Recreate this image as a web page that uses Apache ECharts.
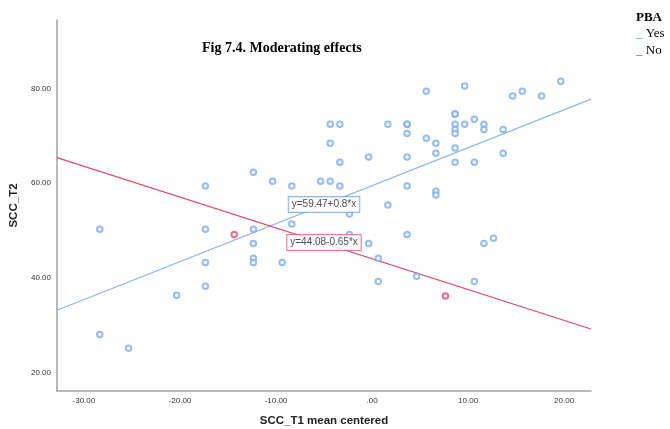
<!DOCTYPE html>
<html><head><meta charset="utf-8">
<script src="https://cdn.jsdelivr.net/npm/echarts@6/dist/echarts.min.js"></script>
<style>html,body{margin:0;padding:0;background:#fff}#c{width:670px;height:429px}</style>
</head><body><div id="c"></div>
<script>
// ---- data ----
const xTicks = [-30, -20, -10, 0, 10, 20];
const yTicks = [20, 40, 60, 80];
const yesX = [-28.35,-28.35,-25.35,-20.35,-17.35,-17.35,-17.35,-17.35,-12.35,-12.35,-12.35,-12.35,-12.35,-10.35,-9.35,-8.35,-8.35,-5.35,-4.35,-4.35,-4.35,-3.35,-3.35,-3.35,-2.35,-2.35,-0.35,-0.35,0.65,0.65,1.65,1.65,3.65,3.65,3.65,3.65,3.65,3.65,4.65,5.65,5.65,6.65,6.65,6.65,6.65,8.65,8.65,8.65,8.65,8.65,8.65,8.65,9.65,9.65,10.65,10.65,10.65,11.65,11.65,11.65,12.65,13.65,13.65,14.65,15.65,17.65,19.65];
const yesY = [50.3,28.1,25.2,36.4,59.4,50.3,43.3,38.3,62.3,50.3,47.3,44.2,43.3,60.4,43.3,59.4,51.4,60.4,72.4,68.4,60.4,72.4,64.4,59.4,53.5,49.2,65.5,47.3,44.2,39.3,72.4,55.4,72.4,72.4,70.5,65.5,59.4,49.2,40.4,79.4,69.5,68.4,66.3,58.3,57.5,74.6,74.6,72.4,71.3,70.5,67.4,64.4,80.5,72.4,73.5,64.4,39.3,72.4,71.3,47.3,48.4,71.3,66.3,78.4,79.4,78.4,81.5];
const noX = [-14.35, 7.65];
const noY = [49.2, 36.2];
const yesFit = [59.47, 0.8];   // intercept, slope
const noFit = [44.08, -0.65];
const yesEq = 'y=59.47+0.8*x';
const noEq = 'y=44.08-0.65*x';
const groups = ['Yes', 'No'];
const legendTitle = 'PBA';
const titleText = 'Fig 7.4. Moderating effects';
const xName = 'SCC_T1 mean centered';
const yName = 'SCC_T2';

// ---- chart ----
const XMIN = -32.8, XMAX = 22.8, YMIN = 16.2, YMAX = 94.4;
const BLUE = '#7aabf0', RED = '#e3486c';
const pts = (xs, ys) => xs.map((x, i) => [x, ys[i]]);
const fitLine = f => [[XMIN, f[0] + f[1] * XMIN], [XMAX, f[0] + f[1] * XMAX]];
const fmt = v => v === 0 ? '.00' : v.toFixed(2);
const chart = echarts.init(document.getElementById('c'), null, {renderer: 'canvas'});
const eqLabel = (pos, text, color) => ({
  type: 'scatter', data: [pos], symbolSize: 1, silent: true, z: 10,
  itemStyle: {color: 'transparent'},
  label: {show: true, position: 'inside', formatter: text, color: '#222',
    fontFamily: 'Liberation Sans', fontSize: 10, backgroundColor: '#fff',
    borderColor: color, borderWidth: 1, padding: [3, 3, 2, 3]}
});
chart.setOption({
  animation: false,
  backgroundColor: '#fff',
  grid: {left: 57, right: 79, top: 20, bottom: 38, outerBoundsMode: 'none', containLabel: false},
  xAxis: {
    type: 'value', min: XMIN, max: XMAX,
    name: xName, nameLocation: 'middle', nameGap: 24,
    nameTextStyle: {fontFamily: 'Liberation Sans', fontWeight: 'bold', fontSize: 11.5, color: '#222'},
    axisLine: {show: true, onZero: false, lineStyle: {color: '#a0a0a0', width: 1.5}},
    axisTick: {show: false}, splitLine: {show: false},
    axisLabel: {customValues: xTicks, formatter: fmt, fontFamily: 'Liberation Sans', fontSize: 8, color: '#333', margin: 6}
  },
  yAxis: {
    type: 'value', min: YMIN, max: YMAX,
    name: yName, nameLocation: 'middle', nameGap: 31,
    nameTextStyle: {fontFamily: 'Liberation Sans', fontWeight: 'bold', fontSize: 11.5, color: '#222'},
    axisLine: {show: true, onZero: false, lineStyle: {color: '#a0a0a0', width: 1.5}},
    axisTick: {show: false}, splitLine: {show: false},
    axisLabel: {customValues: yTicks, formatter: fmt, fontFamily: 'Liberation Sans', fontSize: 8, color: '#333', margin: 6}
  },
  graphic: [
    {type: 'text', left: 202, top: 41, style: {text: titleText, font: 'bold 14px "Liberation Serif"', fill: '#000'}},
    {type: 'text', left: 636, top: 11, style: {text: legendTitle, font: 'bold 13px "Liberation Serif"', fill: '#000'}},
    {type: 'text', left: 636, top: 27, style: {text: '{b|_} ' + groups[0], font: '13px "Liberation Serif"', fill: '#000', rich: {b: {fill: '#2bb3e8', font: '13px "Liberation Serif"'}}}},
    {type: 'text', left: 636, top: 44, style: {text: '{r|_} ' + groups[1], font: '13px "Liberation Serif"', fill: '#000', rich: {r: {fill: '#e0403a', font: '13px "Liberation Serif"'}}}}
  ],
  series: [
    {type: 'line', data: fitLine(yesFit), showSymbol: false, silent: true, z: 2, lineStyle: {color: '#8ab6ee', width: 1.2}},
    {type: 'line', data: fitLine(noFit), showSymbol: false, silent: true, z: 2, lineStyle: {color: RED, width: 1.2}},
    {type: 'scatter', name: groups[0], data: pts(yesX, yesY), symbol: 'emptyCircle', symbolSize: 5.5, z: 3,
      itemStyle: {color: BLUE, borderWidth: 1.2}},
    {type: 'scatter', name: groups[1], data: pts(noX, noY), symbol: 'emptyCircle', symbolSize: 5.5, z: 3,
      itemStyle: {color: RED, borderWidth: 1.2}},
    eqLabel([-5.0, 55.5], yesEq, '#6fa3ea'),
    eqLabel([-5.0, 47.5], noEq, '#e0607f')
  ]
});
</script>
</body></html>
